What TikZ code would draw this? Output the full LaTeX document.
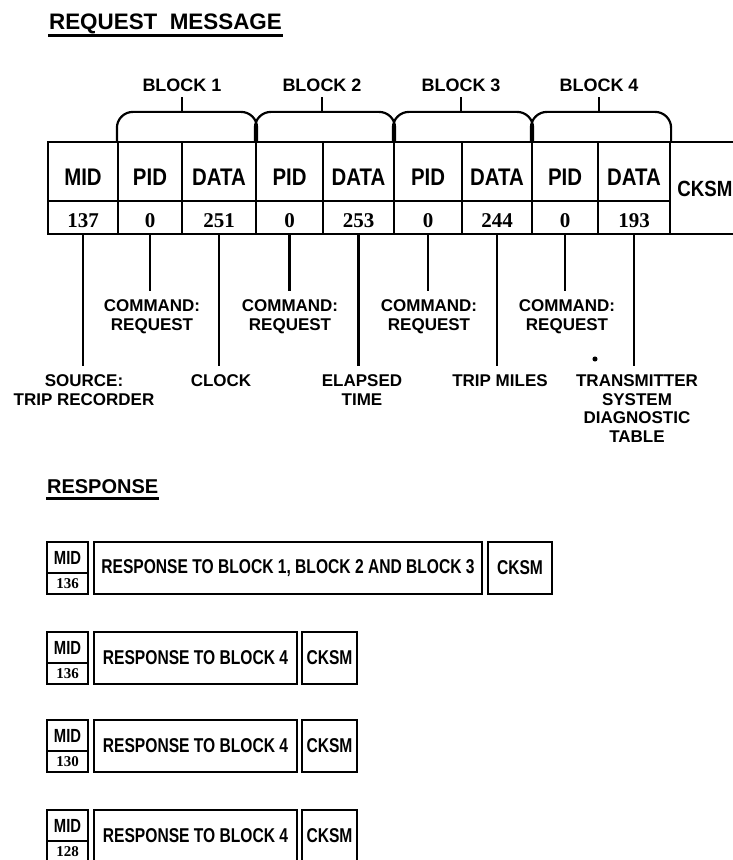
\documentclass[tikz,border=0pt]{standalone}
\usepackage{fontspec}
\setmainfont{Liberation Sans}
\newfontfamily\lblfont{Liberation Sans}
\newfontfamily\boxfont[FakeStretch=0.85]{Liberation Sans}
\newfontfamily\resfont[FakeStretch=0.78]{Liberation Sans}
\newfontfamily\numfont{Liberation Serif}

\begin{document}
\begin{tikzpicture}[
  x=0.5pt, y=-0.5pt,
  line width=1.1pt,
  ttl/.style={font=\lblfont\bfseries\fontsize{11.2}{14}\selectfont, inner sep=0pt, anchor=base west},
  blk/.style={font=\lblfont\bfseries\fontsize{9}{11}\selectfont, inner sep=2.5pt},
  hdcell/.style={draw, inner sep=0pt, minimum height=29.5pt, text height=14pt, text depth=0pt, font=\boxfont\bfseries\fontsize{12}{14}\selectfont},
  valcell/.style={draw, inner sep=0pt, minimum height=16.5pt, text height=9.6pt, text depth=0pt, font=\numfont\bfseries\fontsize{10.5}{12}\selectfont},
  lbl/.style={font=\lblfont\bfseries\fontsize{8.5}{9.2}\selectfont, align=center, inner sep=0pt, outer sep=4.5pt, anchor=north},
  brace/.style={rounded corners=8pt},
  uline/.style={line width=1.5pt},
  resbox/.style={draw, line width=1pt, inner sep=0pt, minimum height=26pt, font=\resfont\bfseries\fontsize{10}{12}\selectfont},
  midtop/.style={draw, line width=1pt, inner sep=0pt, minimum width=20.5pt, minimum height=15.5pt, font=\resfont\bfseries\fontsize{9.5}{10}\selectfont},
  midbot/.style={draw, line width=1pt, inner sep=0pt, minimum width=20.5pt, minimum height=10.5pt, font=\numfont\bfseries\fontsize{7.5}{8}\selectfont}
]
\useasboundingbox (0,0) rectangle (732,860);

% request message
\node[ttl] (req) at (48,30) {REQUEST\ \ MESSAGE};
\draw[uline] ([yshift=-3pt]req.base west) -- ([yshift=-3pt]req.base east);

% table cells
\foreach \n/\c/\w/\h/\v in {1/83/35/MID/137, 2/150/32/PID/0, 3/219/37/DATA/251,
    4/289.5/33.5/PID/0, 5/358.5/35.5/DATA/253, 6/428/34/PID/0, 7/497/35/DATA/244,
    8/565/33/PID/0, 9/634/36/DATA/193} {
  \node[hdcell, minimum width=\w pt] (h\n) at (\c,171.5) {\h};
  \node[valcell, minimum width=\w pt] (v\n) at (\c,217.5) {\v};
}
\node[hdcell, minimum width=35pt, minimum height=46pt, text height=8.6pt, font=\boxfont\bfseries\fontsize{11}{13}\selectfont] (ck) at (705,188) {CKSM};

% blocks
\coordinate (top) at (0,113);
\node[blk] (b1) at (182,85) {BLOCK 1};
\node[blk] (b2) at (322,85) {BLOCK 2};
\node[blk] (b3) at (461,85) {BLOCK 3};
\node[blk] (b4) at (599,85) {BLOCK 4};
\foreach \k in {1,...,4} {
  \pgfmathtruncatemacro{\p}{2*\k}
  \pgfmathtruncatemacro{\q}{2*\k+1}
  \draw[brace] (h\p.north west) -- ([yshift=14.5pt]h\p.north west)
    -- ([yshift=14.5pt]h\q.north east) -- (h\q.north east);
  \draw (b\k.south) -- (b\k.south |- top);
}

% field labels
\node[lbl] (src)  at (84,366)  {SOURCE:\\TRIP RECORDER};
\node[lbl] (cmda) at (152,291) {COMMAND:\\REQUEST};
\node[lbl] (clk)  at (221,366) {CLOCK};
\node[lbl] (cmdb) at (290,291) {COMMAND:\\REQUEST};
\node[lbl] (ela)  at (362,366) {ELAPSED\\TIME};
\node[lbl] (cmdc) at (429,291) {COMMAND:\\REQUEST};
\node[lbl] (trip) at (500,366) {TRIP MILES};
\node[lbl] (cmdd) at (567,291) {COMMAND:\\REQUEST};
\node[lbl] (tx)   at (637,366) {TRANSMITTER\\SYSTEM\\DIAGNOSTIC\\TABLE};
\node[circle, fill, inner sep=0.9pt] (dot) at (595,359) {};
\foreach \n/\t in {1/src,2/cmda,3/clk,4/cmdb,5/ela,6/cmdc,7/trip,8/cmdd,9/tx}
  \draw (v\n.south) -- (v\n.south |- \t.north);

% response
\node[ttl, font=\lblfont\bfseries\fontsize{10}{12}\selectfont] (rsp) at (46,493) {RESPONSE};
\draw[uline] ([yshift=-2.5pt]rsp.base west) -- ([yshift=-2.5pt]rsp.base east);

\node[midtop] (m1) at (67.5,557.5) {MID};
\node[midbot] (n1) at (67.5,583.5) {136};
\node[resbox, minimum width=194pt] (r1) at (288,568) {RESPONSE TO BLOCK 1, BLOCK 2 AND BLOCK 3};
\node[resbox, minimum width=32pt] (c1) at (520,568) {CKSM};

\foreach \i/\y/\mid in {2/632/136, 3/720/130, 4/810/128} {
  \node[midtop] (m\i) at (67.5,\y+15.5) {MID};
  \node[midbot] (n\i) at (67.5,\y+41.5) {\mid};
  \node[resbox, minimum width=101.5pt] (r\i) at (195.5,\y+26) {RESPONSE TO BLOCK 4};
  \node[resbox, minimum width=27.5pt] (c\i) at (329.5,\y+26) {CKSM};
}
\end{tikzpicture}
\end{document}
